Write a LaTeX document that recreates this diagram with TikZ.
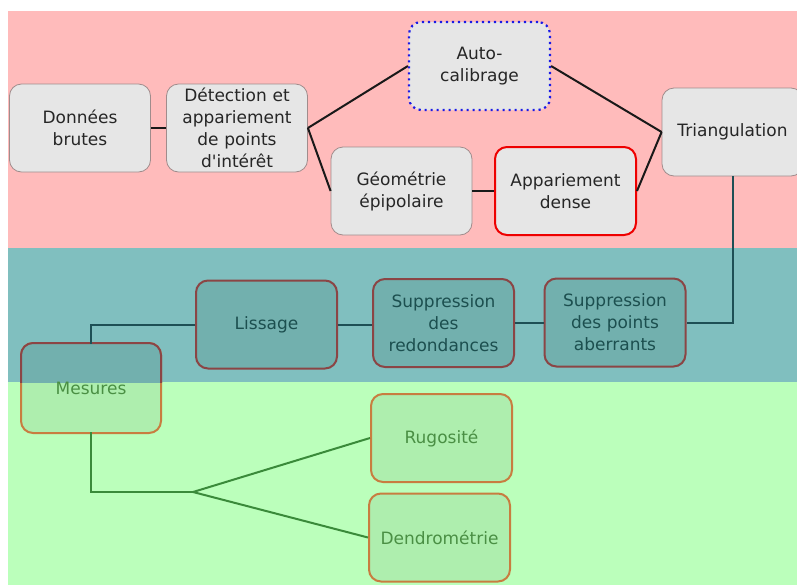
\documentclass[tikz,border=0pt]{standalone}
\usepackage{fontspec}
\newfontfamily\djv{DejaVu Sans}
\definecolor{bandpink}{HTML}{FFBBBB}
\definecolor{bandteal}{HTML}{80BFBF}
\definecolor{bandgreen}{HTML}{BBFFBB}
\definecolor{boxgray}{HTML}{E6E6E6}
\definecolor{boxedge}{HTML}{A08C8C}
\definecolor{midfill}{HTML}{72B0AE}
\definecolor{midborder}{HTML}{8B4545}
\definecolor{midtext}{HTML}{1C4F4F}
\definecolor{midline}{HTML}{1E4F55}
\definecolor{lowfill}{HTML}{AEEEAE}
\definecolor{loworange}{HTML}{C87D40}
\definecolor{lowtext}{HTML}{4A8F44}
\definecolor{lowline}{HTML}{3A8A3A}
\definecolor{autoblue}{HTML}{1A1AE6}
\definecolor{densered}{HTML}{EE0000}
\begin{document}
\begin{tikzpicture}[x=1pt,y=-1pt,
  every node/.style={font=\djv\fontsize{17}{22}\selectfont},
  box/.style={rounded corners=12pt, minimum width=141pt, minimum height=88pt, inner sep=0pt, text width=136pt, align=center},
  topbox/.style={box, fill=boxgray, draw=boxedge, line width=0.8pt, text=black!85},
  midbox/.style={box, fill=midfill, draw=midborder, line width=2pt, text=midtext},
  lowbox/.style={box, fill=lowfill, draw=loworange, line width=2pt, text=lowtext},
  topline/.style={draw=black!90, line width=2pt},
  midlink/.style={draw=midline, line width=2pt},
  lowlink/.style={draw=lowline, line width=2pt}]
\useasboundingbox (0,0) rectangle (797,587);
% bands
\fill[bandpink] (8,11) rectangle (797,248);
\fill[bandteal] (8,248) rectangle (797,382);
\fill[bandgreen] (8,382) rectangle (797,585);
% Mesures box, straddling two bands
\draw[rounded corners=12pt, fill=lowfill, draw=loworange, line width=2pt] (21,343) rectangle (161,433);
\begin{scope}
  \clip (8,248) rectangle (797,382);
  \draw[rounded corners=12pt, fill=midfill, draw=midborder, line width=2pt] (21,343) rectangle (161,433);
\end{scope}
% top nodes
\node[topbox] (don) at (80,128) {Données\\brutes};
\node[topbox] (det) at (237,128) {Détection et\\appariement\\de points\\d'intérêt};
\node[topbox, draw=autoblue, line width=2.2pt, dash pattern=on 2.2pt off 3.8pt] (auto) at (479.5,66) {Auto-\\calibrage};
\node[topbox] (geo) at (401.5,191) {Géométrie\\épipolaire};
\node[topbox, draw=densered, line width=2pt] (app) at (565.5,191) {Appariement\\dense};
\node[topbox] (tri) at (732.5,132) {Triangulation};
% middle nodes
\node[midbox] (lis) at (266.5,324.5) {Lissage};
\node[midbox] (red) at (443.5,323) {Suppression\\des\\redondances};
\node[midbox] (abe) at (615,322.5) {Suppression\\des points\\aberrants};
\node[box, text=lowtext] (mes) at (91,388) {Mesures};
% lower nodes
\node[lowbox] (rug) at (441.5,438) {Rugosité};
\node[lowbox] (den) at (439.5,537.5) {Dendrométrie};
% connectors
\draw[topline] (don.east) -- (det.west);
\draw[topline] (det.east) -- (auto.west);
\draw[topline] (det.east) -- (geo.west);
\draw[topline] (geo.east) -- (app.west);
\draw[topline] (auto.east) -- (tri.west);
\draw[topline] (app.east) -- (tri.west);
\draw[midlink] (tri.south) |- (abe.east);
\draw[midlink] (abe.west) -- (abe.west -| red.east);
\draw[midlink] (lis.east) -- (lis.east -| red.west);
\draw[midlink] (lis.west) -| (mes.north);
\coordinate (fork) at (193,492);
\draw[lowlink] (mes.south) |- (fork);
\draw[lowlink] (fork) -- (rug.west);
\draw[lowlink] (fork) -- (den.west);
\end{tikzpicture}
\end{document}
